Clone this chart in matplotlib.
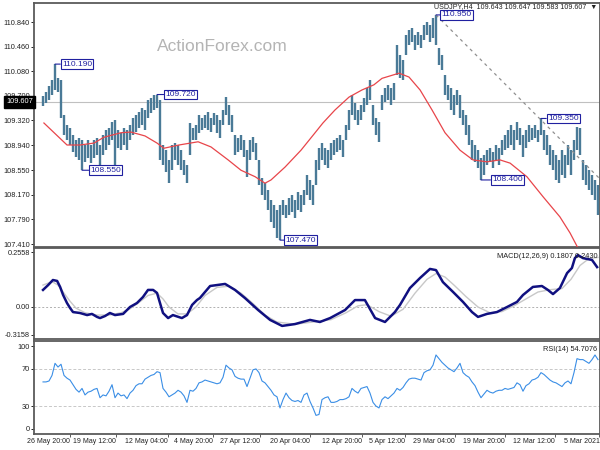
import matplotlib
matplotlib.use('Agg')
import matplotlib.pyplot as plt

plt.rcParams['font.family'] = ['Liberation Sans', 'DejaVu Sans']

# columns run right = older (chart is drawn newest on the left)
bar_high = [109.69, 109.76, 109.85, 109.94, 110.19, 109.97, 109.94, 109.40, 109.25, 109.20,
            109.09, 109.02, 109.05, 109.02, 108.94, 109.02, 108.94, 109.02, 109.05, 108.94,
            109.09, 109.17, 109.20, 109.30, 109.33, 109.17, 109.13, 109.20, 109.17, 109.25,
            109.36, 109.40, 109.45, 109.51, 109.48, 109.64, 109.67, 109.71, 109.72, 109.64,
            108.94, 108.86, 108.71, 108.94, 108.97, 108.94, 108.86, 108.71, 108.63, 109.28,
            109.20, 109.25, 109.40, 109.36, 109.40, 109.45, 109.36, 109.43, 109.40, 109.33,
            109.48, 109.68, 109.56, 109.40, 109.09, 109.05, 109.09, 109.02, 108.86, 109.02,
            109.06, 108.97, 108.71, 108.43, 108.35, 108.24, 108.09, 108.01, 107.94, 108.01,
            108.09, 108.01, 108.12, 108.17, 108.09, 108.21, 108.17, 108.24, 108.48, 108.40,
            108.32, 108.71, 108.89, 108.97, 108.89, 108.86, 108.97, 109.02, 109.05, 109.09,
            109.02, 109.25, 109.48, 109.71, 109.59, 109.48, 109.56, 109.67, 109.82, 109.94,
            109.56, 109.36, 109.30, 109.71, 109.82, 109.87, 109.82, 109.90, 110.49, 110.33,
            110.25, 110.64, 110.72, 110.75, 110.64, 110.69, 110.64, 110.79, 110.84, 110.79,
            110.90, 110.95, 110.44, 110.33, 110.02, 109.87, 109.82, 109.71, 109.79, 109.71,
            109.48, 109.40, 109.25, 109.02, 108.94, 108.86, 108.74, 108.79, 108.86, 108.89,
            108.83, 108.94, 108.89, 109.02, 109.09, 109.17, 109.25, 109.17, 109.30, 109.20,
            109.09, 109.17, 109.25, 109.20, 109.25, 109.17, 109.35, 109.17, 109.09, 108.94,
            108.86, 108.79, 108.71, 108.86, 108.79, 108.94, 108.86, 109.02, 109.22, 109.20,
            108.71, 108.63, 108.55, 108.48, 108.40, 108.32]
bar_low = [109.54, 109.59, 109.64, 109.71, 109.79, 109.76, 109.36, 109.09, 109.02, 108.94,
           108.83, 108.75, 108.71, 108.55, 108.68, 108.74, 108.66, 108.74, 108.79, 108.63,
           108.79, 108.86, 108.94, 109.02, 108.63, 108.89, 108.86, 108.94, 108.86, 109.02,
           109.09, 109.14, 109.20, 109.25, 109.17, 109.36, 109.44, 109.48, 109.51, 108.71,
           108.63, 108.52, 108.35, 108.55, 108.71, 108.63, 108.55, 108.48, 108.35, 108.79,
           109.02, 109.02, 109.13, 109.17, 109.20, 109.17, 109.14, 109.25, 109.13, 109.05,
           109.25, 109.40, 109.25, 109.14, 108.79, 108.83, 108.86, 108.75, 108.45, 108.71,
           108.83, 108.71, 108.32, 108.17, 108.09, 107.94, 107.75, 107.66, 107.50, 107.47,
           107.86, 107.81, 107.86, 107.91, 107.81, 107.94, 107.91, 108.01, 108.17, 108.09,
           108.01, 108.32, 108.55, 108.71, 108.63, 108.58, 108.71, 108.79, 108.83, 108.86,
           108.75, 109.02, 109.17, 109.40, 109.33, 109.25, 109.33, 109.45, 109.56, 109.64,
           109.25, 109.09, 108.99, 109.48, 109.60, 109.64, 109.56, 109.64, 110.02, 109.97,
           109.94, 110.33, 110.49, 110.53, 110.41, 110.49, 110.44, 110.56, 110.64, 110.53,
           110.59, 110.49, 110.18, 110.10, 109.71, 109.64, 109.48, 109.40, 109.56, 109.36,
           109.25, 109.09, 108.94, 108.71, 108.68, 108.58, 108.40, 108.48, 108.63, 108.68,
           108.58, 108.71, 108.63, 108.79, 108.86, 108.89, 108.94, 108.86, 109.02, 108.94,
           108.75, 108.89, 108.99, 109.02, 109.05, 108.99, 109.09, 108.86, 108.79, 108.63,
           108.55, 108.40, 108.35, 108.48, 108.43, 108.63, 108.48, 108.71, 108.86, 108.79,
           108.40, 108.32, 108.24, 108.17, 108.09, 107.86]

ma_x = [0.3, 8, 12.3, 17, 20.3, 26, 29.3, 34, 38, 40.3, 45.3, 51.7, 56, 61.7, 66, 70.7, 74, 76,
        80.7, 86, 90.7, 93.3, 97.3, 102, 106.3, 110.3, 113, 118.7, 122, 125.7, 129.7, 134, 139,
        143.3, 148, 152.3, 155.7, 161.3, 166.7, 172.3, 175.7, 178.3, 182, 185.7]
ma_val = [109.28, 108.94, 108.94, 108.97, 109.06, 109.13, 109.14, 109.08, 108.97, 108.89, 108.94,
          108.99, 108.91, 108.71, 108.55, 108.45, 108.35, 108.40, 108.60, 108.86, 109.13, 109.28,
          109.48, 109.68, 109.79, 109.87, 109.97, 110.05, 109.99, 109.79, 109.48, 109.13, 108.86,
          108.71, 108.68, 108.71, 108.66, 108.45, 108.14, 107.83, 107.58, 107.35, 107.0, 106.6]

macd_x = [0, 1.7, 3.3, 4.7, 5.7, 6.7, 8, 9, 10, 12.3, 14.7, 16.3, 18, 19, 20.7, 22.3, 24, 26.7, 29,
          31.3, 33.3, 35, 36.7, 38, 39, 40, 41.7, 43.3, 46.3, 48, 49.7, 51.3, 52.3, 55.7, 60.7, 64,
          67.3, 71.7, 75.7, 79.7, 84, 89, 92.3, 95.7, 100.7, 104, 107.3, 110.7, 114, 117.3, 119,
          122.3, 125.7, 129, 131, 133.3, 136.7, 140, 143, 145, 148, 151.3, 154.7, 158, 160, 163.3,
          166.3, 168.3, 170, 172.3, 174.7, 176.3, 177.3, 178.3, 180, 183, 184.7]
macd_val = [0.074, 0.095, 0.117, 0.113, 0.087, 0.052, 0.017, -0.004, -0.022, -0.026, -0.035,
            -0.030, -0.043, -0.048, -0.039, -0.026, -0.035, -0.030, 0.0, 0.017, 0.043, 0.074,
            0.074, 0.061, 0.017, -0.026, -0.048, -0.035, -0.048, -0.035, 0.009, 0.030, 0.039,
            0.091, 0.100, 0.074, 0.039, -0.013, -0.056, -0.082, -0.074, -0.056, -0.065, -0.048,
            -0.013, 0.030, 0.030, -0.048, -0.065, -0.022, 0.009, 0.082, 0.126, 0.165, 0.160,
            0.108, 0.065, 0.022, -0.022, -0.043, -0.030, -0.022, 0.0, 0.022, 0.052, 0.087, 0.091,
            0.074, 0.056, 0.082, 0.147, 0.169, 0.212, 0.225, 0.212, 0.204, 0.173]

signal_x = [0, 3, 5, 7, 9, 11, 14, 18, 22, 26, 29, 32, 35, 38, 40, 42, 45, 48, 51, 54, 58, 62, 66,
            70, 74, 78, 84, 90, 96, 101, 105, 108, 112, 116, 120, 124, 128, 131, 134, 137, 141,
            145, 149, 153, 157, 161, 165, 169, 173, 176, 179, 182, 185]
signal_val = [0.095, 0.110, 0.095, 0.060, 0.025, -0.005, -0.025, -0.035, -0.035, -0.025, -0.008,
              0.020, 0.050, 0.060, 0.035, 0.000, -0.030, -0.030, 0.000, 0.050, 0.085, 0.090,
              0.060, 0.015, -0.035, -0.065, -0.075, -0.065, -0.055, -0.025, 0.005, 0.010, -0.020,
              -0.040, -0.010, 0.060, 0.120, 0.145, 0.130, 0.095, 0.045, 0.000, -0.025, -0.020,
              0.005, 0.035, 0.065, 0.075, 0.080, 0.120, 0.180, 0.210, 0.215]

rsi = [56, 56, 57, 63, 76, 72, 75, 63, 60, 58, 53, 48, 45, 49, 42, 45, 46, 48, 49, 39,
       42, 41, 46, 53, 39, 44, 41, 42, 38, 44, 47, 52, 54, 54, 59, 61, 63, 64, 67, 66,
       49, 45, 40, 42, 44, 47, 45, 41, 34, 47, 46, 49, 55, 56, 58, 57, 56, 55, 54, 55,
       61, 74, 71, 69, 62, 60, 59, 59, 51, 60, 69, 70, 66, 57, 55, 51, 47, 42, 40, 28,
       37, 44, 39, 36, 35, 36, 34, 42, 44, 35, 28, 20, 21, 37, 39, 40, 34, 34, 35, 37,
       37, 38, 40, 49, 46, 44, 49, 50, 51, 44, 34, 30, 28, 37, 40, 38, 41, 44, 49, 47,
       50, 55, 59, 60, 60, 59, 58, 66, 68, 69, 74, 85, 81, 77, 74, 71, 69, 67, 71, 76,
       66, 63, 61, 56, 52, 45, 39, 43, 47, 45, 44, 46, 47, 47, 49, 48, 49, 50, 55, 53,
       46, 52, 54, 58, 59, 61, 66, 64, 61, 58, 56, 55, 53, 51, 55, 57, 54, 66, 81, 80,
       80, 78, 76, 80, 85, 80]

price_ticks = [110.840, 110.460, 110.080, 109.700, 109.320, 108.940, 108.550, 108.170, 107.790, 107.410]
last_price = 109.607

# MT4 prints the scale labels slightly inside the panel edges
macd_tick_pos = [0.238, 0.0, -0.121]
macd_tick_lab = ['0.2558', '0.00', '-0.3158']
rsi_tick_pos = [94.6, 70, 30, 5.4]
rsi_tick_lab = ['100', '70', '30', '0']

# annotated extremes: column, price, label offset (points)
marks_col = [4, 13, 38, 79, 131, 146, 166]
marks_price = [110.190, 108.550, 109.720, 107.470, 110.950, 108.400, 109.350]
marks_off = [5, 6, 6, 4, 4, 8, 5]

trend_x = [131, 186]
trend_y = [110.95, 108.40]

date_pos = [9, 24.3, 41.7, 56.7, 72.3, 89, 106.3, 120.7, 137.3, 154, 170.7, 185.5]
date_labels = ['26 May 20:00', '19 May 12:00', '12 May 04:00', '4 May 20:00', '27 Apr 12:00',
               '20 Apr 04:00', '12 Apr 20:00', '5 Apr 12:00', '29 Mar 04:00', '19 Mar 20:00',
               '12 Mar 12:00', '5 Mar 2021']

cols = list(range(len(bar_high)))

frame = '#5a5a5a'
txt = '#222222'
navy = '#2020a0'

fig = plt.figure(figsize=(6, 4.5), dpi=100)
ax1 = fig.add_axes([0.0567, 0.4511, 0.9433, 0.5422])
ax2 = fig.add_axes([0.0567, 0.2467, 0.9433, 0.2022])
ax3 = fig.add_axes([0.0567, 0.0356, 0.9433, 0.2066])

for ax in (ax1, ax2, ax3):
    ax.set_xlim(-3, 185.67)
    for s in ax.spines.values():
        s.set_color(frame)
        s.set_linewidth(1.3)
    ax.tick_params(axis='both', labelsize=5.3, colors=txt, length=2, width=0.7, pad=1)
    ax.tick_params(axis='x', color=frame)

# price panel
ax1.set_ylim(107.364, 111.134)
ax1.axhline(last_price, color='#c0c0c0', lw=0.8, zorder=1)
ax1.vlines(cols, bar_low, bar_high, color='#4a7a97', lw=1.7, zorder=2)
ax1.plot(ma_x, ma_val, color='#e8454a', lw=0.9, zorder=3)
ax1.plot(trend_x, trend_y, color='#909090', lw=0.9, ls=(0, (2.5, 3)), zorder=3)
ax1.set_yticks(price_ticks)
ax1.set_yticklabels(['%.3f' % p for p in price_ticks])
ax1.set_xticks(date_pos)
ax1.set_xticklabels([])
ax1.tick_params(axis='x', length=0)
ax1.text(-0.002, last_price, '%.3f' % last_price, transform=ax1.get_yaxis_transform(),
         ha='right', va='center', fontsize=5.3, color='white', zorder=6,
         bbox=dict(boxstyle='square,pad=0.3', fc='black', ec='black'))
for c, p, o in zip(marks_col, marks_price, marks_off):
    ax1.annotate('%.3f' % p, xy=(c, p), xytext=(o, 0), textcoords='offset points',
                 ha='left', va='center', fontsize=6, color=navy,
                 bbox=dict(boxstyle='square,pad=0.15', fc='white', ec=navy, lw=0.8),
                 arrowprops=dict(arrowstyle='-', color=navy, lw=0.8, shrinkA=0, shrinkB=0),
                 zorder=5)
ax1.text(0.995, 0.999, 'USDJPY,H4  109.643 109.647 109.583 109.607  \u25bc', transform=ax1.transAxes,
         ha='right', va='top', fontsize=5.1, color=txt)
ax1.text(0.332, 0.82, 'ActionForex.com', transform=ax1.transAxes, ha='center', va='center',
         fontsize=12.5, color='#b4b4b4')

# MACD panel
ax2.set_ylim(-0.1387, 0.2558)
ax2.axhline(0, color='#b0b0b0', lw=0.7, ls=(0, (2, 2)))
ax2.plot(signal_x, signal_val, color='#c8c8c8', lw=1.0)
ax2.plot(macd_x, macd_val, color='#101080', lw=1.8)
ax2.set_yticks(macd_tick_pos)
ax2.set_yticklabels(macd_tick_lab)
ax2.set_xticks(date_pos)
ax2.set_xticklabels([])
ax2.tick_params(axis='x', length=0)
ax2.text(0.995, 0.95, 'MACD(12,26,9) 0.1807 0.2430', transform=ax2.transAxes,
         ha='right', va='top', fontsize=5.3, color=txt)

# RSI panel
ax3.set_ylim(0, 100)
ax3.axhline(70, color='#c8c8c8', lw=0.7, ls=(0, (3, 2)))
ax3.axhline(30, color='#c8c8c8', lw=0.7, ls=(0, (3, 2)))
ax3.plot(cols, rsi, color='#3a8ee6', lw=0.8)
ax3.set_yticks(rsi_tick_pos)
ax3.set_yticklabels(rsi_tick_lab)
ax3.set_xticks(date_pos)
ax3.set_xticklabels(date_labels, ha='right', fontsize=5)
ax3.text(0.995, 0.95, 'RSI(14) 54.7076', transform=ax3.transAxes,
         ha='right', va='top', fontsize=5.3, color=txt)

fig.savefig('out.png', dpi=100)
